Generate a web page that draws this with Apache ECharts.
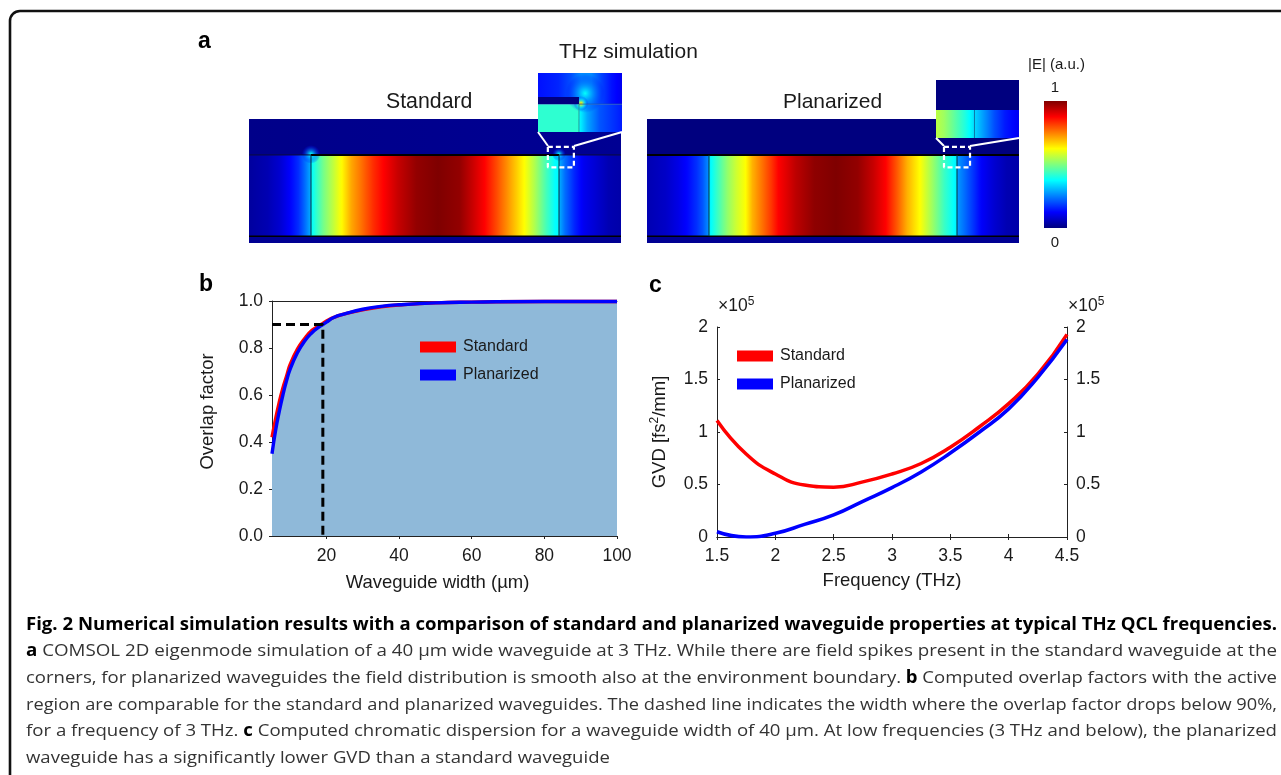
<!DOCTYPE html>
<html>
<head>
<meta charset="utf-8">
<style>html,body{margin:0;padding:0;background:#fff}#c{width:1281px;height:775px}</style>
<script src="https://cdn.jsdelivr.net/npm/echarts@6/dist/echarts.min.js"></script>
</head>
<body>
<div id="c"></div>
<script>
// ---------- panel a: field values ([position µm, |E|]) ----------
const jetColors = ['#00007f','#0000ff','#007fff','#00ffff','#7fff7f','#ffff00','#ff7f00','#ff0000','#7f0000'];
const stdProfile = [[-10,.03],[-7,.05],[-5,.08],[-3.5,.12],[-2,.17],[-1,.23],[0,.3],[.05,.37],[1,.43],[2,.49],[3.5,.56],[5,.63],[6.5,.71],[8,.76],[10,.83],[11.7,.875],[14,.93],[17,.98],[20.5,1],[24,.98],[26,.93],[28,.875],[30,.8],[32,.72],[34.4,.625],[36,.55],[38,.44],[39.4,.375],[39.95,.37],[40,.3],[41,.23],[42.5,.16],[44,.11],[46,.08],[48,.05],[50,.04]];
const plnProfile = [[-10,.05],[-7,.07],[-5,.1],[-3.5,.13],[-2,.17],[-1,.21],[0,.27],[.05,.36],[1.5,.44],[3,.52],[4.5,.58],[5.9,.625],[7,.7],[8.5,.76],[10,.82],[11.2,.875],[14,.94],[17,.985],[20.5,1],[24,.98],[26.5,.93],[28.5,.875],[30.5,.78],[32,.7],[34,.625],[36,.53],[38,.43],[39.5,.375],[39.95,.36],[40,.28],[41,.24],[42.5,.18],[44,.12],[46,.08],[48,.05],[50,.04]];
const stdAir = [[-10,.01],[50,.02]];
const plnAir = [[-10,0],[50,0]];
const stripField = [[-10,.02],[50,.02]];
const stdSpots = [[0,14.3,1.7,1.5,.4],[40,14.3,1.1,1.1,.4]];
const stdInsetTop = [[38,.14],[39,.16],[39.6,.2],[40.1,.26],[40.6,.26],[41.1,.19],[41.6,.14],[42.1,.11]];
const stdInsetRight = [[40,.38],[40.4,.29],[41,.21],[42.1,.15]];
const stdInsetLeft = [[38,.42],[40,.42]];
const stdInsetBar = [[38,0],[40,0]];
const stdInsetSpots = [[40.3,14.9,.95,1.05,.38],[40.1,14.4,.36,.62,.7]];
const plnInsetAir = [[38.1,0],[42.2,0]];
const plnInsetField = [[38.1,.56],[38.5,.53],[39,.47],[39.5,.41],[40,.34],[40.5,.27],[41,.2],[41.5,.15],[42.2,.11]];
const colorbarScale = [[0,0],[.125,.125],[.25,.25],[.375,.375],[.5,.5],[.625,.625],[.75,.75],[.875,.875],[1,1]];

// ---------- panel b ----------
const widthStd = [5,6,7,8,9,10,12,14,16,18,19,20,22,25,30,35,40,50,60,80,100];
const overlapStd = [.42,.5,.57,.63,.68,.73,.795,.84,.875,.895,.905,.915,.93,.945,.962,.975,.983,.992,.995,.998,.998];
const overlapPln = [.35,.45,.53,.6,.66,.71,.78,.83,.865,.89,.9,.91,.93,.945,.965,.977,.984,.992,.995,.998,.998];
const cutoffPath = [[5,.9],[19,.9],[19,0]];
const bXTicks = [20,40,60,80,100];

// ---------- panel c ----------
const freqGrid = [1.5,1.75,2,2.25,2.5,2.75,3,3.25,3.5,3.75,4,4.25,4.5];
const gvdStd = [1.11,.79,.6,.495,.475,.525,.6,.7,.855,1.05,1.27,1.55,1.93];
const gvdPln = [.05,0,.035,.12,.21,.34,.47,.62,.8,1,1.22,1.52,1.88];

// ---------- text ----------
const captionLines = [
 '{b|Fig. 2 Numerical simulation results with a comparison of standard and planarized waveguide properties at typical THz QCL frequencies.}',
 '{b|a} COMSOL 2D eigenmode simulation of a 40 µm wide waveguide at 3 THz. While there are field spikes present in the standard waveguide at the',
 'corners, for planarized waveguides the field distribution is smooth also at the environment boundary. {b|b} Computed overlap factors with the active',
 'region are comparable for the standard and planarized waveguides. The dashed line indicates the width where the overlap factor drops below 90%,',
 'for a frequency of 3 THz. {b|c} Computed chromatic dispersion for a waveguide width of 40 µm. At low frequencies (3 THz and below), the planarized',
 'waveguide has a significantly lower GVD than a standard waveguide'
];

const SANS = 'Liberation Sans';
const INK = '#1a1a1a';

function jet(v){
  v = Math.max(0,Math.min(1,v));
  const p = v*(jetColors.length-1), i = Math.min(Math.floor(p),jetColors.length-2), t = p-i;
  const a = echarts.color.parse(jetColors[i]), b = echarts.color.parse(jetColors[i+1]);
  return [a[0]+(b[0]-a[0])*t, a[1]+(b[1]-a[1])*t, a[2]+(b[2]-a[2])*t].map(x=>Math.round(x));
}
function rgba(c,a){return 'rgba('+c[0]+','+c[1]+','+c[2]+','+a+')';}

function profileStops(profile){
  const x0=profile[0][0], x1=profile[profile.length-1][0], stops=[];
  for(let i=0;i<profile.length-1;i++){
    const a=profile[i], b=profile[i+1];
    for(let k=0;k<4;k++){
      const t=k/4, x=a[0]+(b[0]-a[0])*t, v=a[1]+(b[1]-a[1])*t;
      stops.push({offset:(x-x0)/(x1-x0),color:rgba(jet(v),1)});
    }
  }
  stops.push({offset:1,color:rgba(jet(profile[profile.length-1][1]),1)});
  return stops;
}
const profiles=[];
function band(profile,y0,y1){
  profiles.push(profile);
  return [profile[0][0],profile[profile.length-1][0],y0,y1,profiles.length-1];
}
function renderBand(params,api){
  const a=api.coord([api.value(0),api.value(3)]), b=api.coord([api.value(1),api.value(2)]);
  return {type:'rect',shape:{x:a[0],y:a[1],width:b[0]-a[0],height:b[1]-a[1]},
    style:{fill:new echarts.graphic.LinearGradient(0,0,1,0,profileStops(profiles[api.value(4)]))},silent:true};
}
function renderBar(params,api){
  const a=api.coord([0,api.value(1)]), b=api.coord([1,api.value(0)]);
  return {type:'rect',shape:{x:a[0],y:a[1],width:b[0]-a[0],height:b[1]-a[1]},
    style:{fill:new echarts.graphic.LinearGradient(0,1,0,0,profileStops(colorbarScale))},silent:true};
}
function renderSpot(params,api){
  const c=api.coord([api.value(0),api.value(1)]), e=api.coord([api.value(0)+api.value(2),api.value(1)+api.value(3)]);
  const peak=api.value(4), stops=[];
  for(let i=0;i<=8;i++){const t=i/8; stops.push({offset:t,color:rgba(jet(peak*(1-t)+.12*t),Math.pow(1-t,.8))});}
  return {type:'ellipse',shape:{cx:c[0],cy:c[1],rx:e[0]-c[0],ry:c[1]-e[1]},
    style:{fill:new echarts.graphic.RadialGradient(.5,.5,.5,stops)},silent:true};
}
function field(i,data,z){
  return {type:'custom',xAxisIndex:i,yAxisIndex:i,coordinateSystem:'cartesian2d',renderItem:renderBand,data,z:z||2,silent:true,clip:true};
}
function spots(i,data,z){
  return {type:'custom',xAxisIndex:i,yAxisIndex:i,coordinateSystem:'cartesian2d',renderItem:renderSpot,data,z:z||2,silent:true,clip:true};
}
function stroke(i,data,color,width,z,dash){
  return {type:'line',xAxisIndex:i,yAxisIndex:i,data,showSymbol:false,silent:true,z:z||3,clip:false,
    lineStyle:{color,width,type:dash||'solid',cap:'butt'}};
}

// grids
const fieldBox = [{left:249,top:119,width:372,height:124},{left:647,top:119,width:372,height:124},
                  {left:538,top:73,width:84,height:59},{left:936,top:80,width:83,height:58}];
const bareAxis = (min,max)=>({type:'value',min,max,show:false,splitLine:{show:false}});
const xAxes = [bareAxis(-10,50),bareAxis(-10,50),bareAxis(38,42.1),bareAxis(38.1,42.2)];
const yAxes = [bareAxis(0,20),bareAxis(0,20),bareAxis(13,15.9),bareAxis(13,15.9)];
const grids = fieldBox.map(g=>Object.assign({},g,{containLabel:false}));
grids.push({left:272,top:301,width:345,height:235},{left:717,top:327,width:350,height:210},{left:1044,top:101,width:23,height:127});

const axisLine={lineStyle:{color:'#222',width:1}};
const labelStyle={fontFamily:SANS,fontSize:17.5,color:INK};
const nameStyle={fontFamily:SANS,fontSize:18.5,color:INK};
// b: x (4), top line (5)
xAxes.push({type:'value',gridIndex:4,min:5,max:100,position:'bottom',splitLine:{show:false},axisLine,
  axisTick:{show:true,length:3,lineStyle:{color:'#222'},customValues:bXTicks},
  axisLabel:Object.assign({customValues:bXTicks,margin:11},labelStyle),
  name:'Waveguide width (µm)',nameLocation:'middle',nameGap:37,nameTextStyle:Object.assign({},nameStyle,{padding:[0,14,0,0]})});
xAxes.push({type:'value',gridIndex:4,min:5,max:100,position:'top',splitLine:{show:false},axisLine,axisTick:{show:false},axisLabel:{show:false}});
yAxes.push({type:'value',gridIndex:4,min:0,max:1,interval:.2,position:'left',splitLine:{show:false},axisLine,
  axisTick:{show:true,length:3,lineStyle:{color:'#222'}},
  axisLabel:Object.assign({margin:9,formatter:v=>v.toFixed(1)},labelStyle),
  name:'Overlap factor',nameLocation:'middle',nameGap:55,nameTextStyle:Object.assign({},nameStyle,{padding:[0,0,0,14]})});
// c: x (6), top (7)
xAxes.push({type:'value',gridIndex:5,min:1.5,max:4.5,interval:.5,position:'bottom',splitLine:{show:false},axisLine,
  axisTick:{show:true,inside:true,length:3,lineStyle:{color:'#222'}},
  axisLabel:Object.assign({margin:10,hideOverlap:false},labelStyle),
  name:'Frequency (THz)',nameLocation:'middle',nameGap:34,nameTextStyle:nameStyle});
xAxes.push({type:'value',gridIndex:5,min:1.5,max:4.5,interval:.5,position:'top',splitLine:{show:false},axisLine,
  axisTick:{show:true,inside:true,length:3,lineStyle:{color:'#222'}},axisLabel:{show:false}});
yAxes.push({type:'value',gridIndex:5,min:0,max:2,interval:.5,position:'left',splitLine:{show:false},axisLine,
  axisTick:{show:true,inside:true,length:3,lineStyle:{color:'#222'}},
  axisLabel:Object.assign({margin:9},labelStyle),
  name:'GVD [fs{s|2}/mm]',nameLocation:'middle',nameGap:47,
  nameTextStyle:Object.assign({},nameStyle,{rich:{s:{fontFamily:SANS,fontSize:12,color:INK,padding:[0,0,9,0]}}})});
yAxes.push({type:'value',gridIndex:5,min:0,max:2,interval:.5,position:'right',splitLine:{show:false},axisLine,
  axisTick:{show:true,inside:true,length:3,lineStyle:{color:'#222'}},
  axisLabel:Object.assign({margin:9},labelStyle)});
// colour bar (x 8, y 7)
xAxes.push(bareAxis(0,1)); yAxes.push(bareAxis(0,1));
[0,1,2,3].forEach(i=>{xAxes[i].gridIndex=i;yAxes[i].gridIndex=i;});
xAxes[8].gridIndex=6; yAxes[7].gridIndex=6;

const STRIP=1.1, TOP=14.2, AIR=20;
const series=[
  // Standard
  field(0,[band(stdProfile,STRIP,TOP),band(stdAir,TOP,AIR),band(stripField,0,STRIP)]),
  spots(0,stdSpots),
  stroke(0,[[-10,TOP],[50,TOP]],'#0b0b3a',1),
  stroke(0,[[0,TOP],[40,TOP]],'#000',2),
  stroke(0,[[-10,STRIP],[50,STRIP]],'#000',1.5),
  stroke(0,[[0,STRIP],[0,TOP]],'#06303c',1),
  stroke(0,[[40,STRIP],[40,TOP]],'#06303c',1),
  stroke(0,[[38.2,15.5],[42.4,15.5],[42.4,12.2],[38.2,12.2],[38.2,15.5]],'#fff',2.2,8,[5,3]),
  // Planarized
  field(1,[band(plnProfile,STRIP,TOP),band(plnAir,TOP,AIR),band(stripField,0,STRIP)]),
  stroke(1,[[-10,TOP],[50,TOP]],'#000',2),
  stroke(1,[[-10,STRIP],[50,STRIP]],'#000',1.5),
  stroke(1,[[0,STRIP],[0,TOP]],'#06303c',1),
  stroke(1,[[40,STRIP],[40,TOP]],'#06303c',1),
  stroke(1,[[37.9,15.5],[42.1,15.5],[42.1,12.2],[37.9,12.2],[37.9,15.5]],'#fff',2.2,8,[5,3]),
  // Insets
  field(2,[band(stdInsetTop,14.37,15.9),band(stdInsetRight,13,14.37),band(stdInsetLeft,13,14.37)],5),
  spots(2,stdInsetSpots,6),
  field(2,[band(stdInsetBar,14.37,14.72)],7),
  stroke(2,[[40,13],[40,14.37]],'#1f9f9f',1,7),
  stroke(2,[[40,14.37],[42.1,14.37]],'#1a55a8',.8,7),
  field(3,[band(plnInsetAir,14.4,15.9),band(plnInsetField,13,14.4)],5),
  stroke(3,[[40,13],[40,14.4]],'#0d74a8',1,6),
  // colour bar
  {type:'custom',xAxisIndex:8,yAxisIndex:7,coordinateSystem:'cartesian2d',renderItem:renderBar,data:[[0,1]],silent:true},
  // b
  {type:'line',name:'fill',xAxisIndex:4,yAxisIndex:4,data:widthStd.map((x,i)=>[x,overlapPln[i]]),showSymbol:false,smooth:true,
    lineStyle:{width:0},areaStyle:{color:'#8fb9d9',opacity:1},silent:true,z:1},
  {type:'line',name:'Standard',xAxisIndex:4,yAxisIndex:4,data:widthStd.map((x,i)=>[x,overlapStd[i]]),showSymbol:false,smooth:true,clip:false,
    itemStyle:{color:'#ff0000'},lineStyle:{color:'#ff0000',width:3.4},silent:true,z:3},
  {type:'line',name:'Planarized',xAxisIndex:4,yAxisIndex:4,data:widthStd.map((x,i)=>[x,overlapPln[i]]),showSymbol:false,smooth:true,clip:false,
    itemStyle:{color:'#0000ff'},lineStyle:{color:'#0000ff',width:3.4},silent:true,z:4},
  {type:'line',name:'cutoff',xAxisIndex:4,yAxisIndex:4,data:cutoffPath,showSymbol:false,silent:true,z:5,clip:false,
    lineStyle:{color:'#000',width:3,type:[9,5],cap:'butt'}},
  // c
  {type:'line',name:'Standard',xAxisIndex:6,yAxisIndex:5,data:freqGrid.map((x,i)=>[x,gvdStd[i]]),showSymbol:false,smooth:true,
    itemStyle:{color:'#ff0000'},lineStyle:{color:'#ff0000',width:3.5},silent:true,z:3},
  {type:'line',name:'Planarized',xAxisIndex:6,yAxisIndex:5,data:freqGrid.map((x,i)=>[x,gvdPln[i]]),showSymbol:false,smooth:true,
    itemStyle:{color:'#0000ff'},lineStyle:{color:'#0000ff',width:3.5},silent:true,z:4}
];

// legends
const legendBase={orient:'vertical',icon:'rect',itemWidth:36,itemHeight:11,itemGap:12,padding:0,selectedMode:false,
  data:['Standard','Planarized'],textStyle:{fontFamily:SANS,fontSize:16,color:INK,padding:[0,0,0,2]}};

// caption scaled line by line to fill the justified measure
const measure=document.createElement('canvas').getContext('2d');
const CAP_FONT='"Open Sans"', CAP_SIZE=17, CAP_LEFT=26, CAP_RIGHT=1277;
function lineWidth(s){
  let w=0; s.split(/(\{b\|[^}]*\})/).forEach(p=>{
    if(!p) return;
    const bold=p.startsWith('{b|');
    measure.font=(bold?'bold ':'')+CAP_SIZE+'px '+CAP_FONT;
    w+=measure.measureText(bold?p.slice(3,-1):p).width;
  });
  return w;
}
const capScales=captionLines.map(s=>(CAP_RIGHT-CAP_LEFT)/lineWidth(s));
capScales[5]=(capScales[1]+capScales[2]+capScales[3]+capScales[4])/4;
const capY=[625,651.5,678,705,731.5,758];
const captionEls=captionLines.map((s,i)=>({type:'text',x:CAP_LEFT,y:capY[i],scaleX:capScales[i],z:50,silent:true,
  style:{text:s,fontFamily:CAP_FONT,fontSize:CAP_SIZE,fill:'#333',verticalAlign:'middle',
    rich:{b:{fontFamily:CAP_FONT,fontSize:CAP_SIZE,fontWeight:'bold',fill:'#000'}}}}));

const txt=(text,x,y,size,opt)=>({type:'text',x,y,z:50,silent:true,style:Object.assign({text,fontFamily:SANS,fontSize:size,fill:INK,verticalAlign:'middle',align:'left'},opt||{})});
const white=(x1,y1,x2,y2)=>({type:'line',z:60,silent:true,shape:{x1,y1,x2,y2},style:{stroke:'#fff',lineWidth:2}});
const times5=(x,y)=>txt('×10{s|5}',x,y,17.5,{rich:{s:{fontFamily:SANS,fontSize:12,fill:INK,padding:[0,0,9,0]}}});

const option={
  animation:false,
  backgroundColor:'#fff',
  grid:grids,
  xAxis:xAxes,
  yAxis:yAxes,
  series,
  legend:[
    Object.assign({},legendBase,{left:420,top:339}),
    Object.assign({},legendBase,{left:737,top:348})
  ],
  graphic:[
    {type:'rect',z:40,silent:true,shape:{x:10,y:11,width:1500,height:1000,r:10},style:{fill:'none',stroke:'#111',lineWidth:2.6}},
    txt('a',198,42,23,{fontWeight:'bold',fill:'#000'}),
    txt('b',199,285,23,{fontWeight:'bold',fill:'#000'}),
    txt('c',649,286,23,{fontWeight:'bold',fill:'#000'}),
    txt('THz simulation',559,52,21),
    txt('Standard',386,102,21.3),
    txt('Planarized',783,102,21),
    txt('|E| (a.u.)',1028,65,15),
    txt('1',1055,88,15,{align:'center'}),
    txt('0',1055,243,15,{align:'center'}),
    times5(718,306),
    times5(1068,306),
    white(538,132,548,146),white(622,132,574,146),
    white(936,138,944,146),white(1019,138,970,146)
  ].concat(captionEls)
};
const chart=echarts.init(document.getElementById('c'),null,{renderer:'canvas'});
chart.setOption(option);
</script>
</body>
</html>
